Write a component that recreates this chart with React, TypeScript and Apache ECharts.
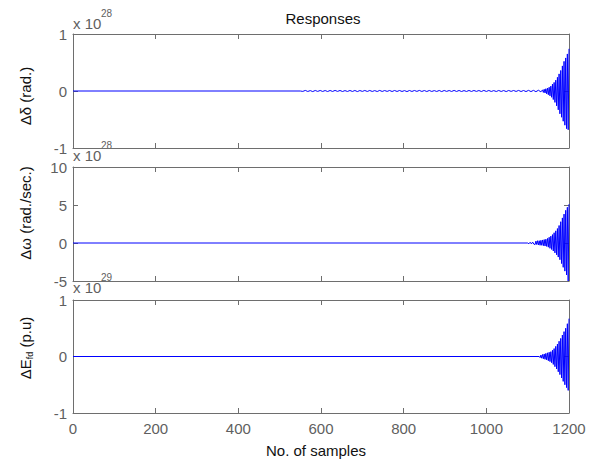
import React, { useEffect, useRef } from 'react';
import * as echarts from 'echarts';

// ---------- data ----------
const xTicks = [0, 200, 400, 600, 800, 1000, 1200];
const xMin = 0;
const xMax = 1200;
const xInterval = 200;

// Δδ (rad.)  ×10^28
const deltaRange = [-1, 1];
const deltaFlat = [[0, 0], [550, 0]];
const deltaRippleStart = 550;
const deltaRippleStep = 6;
const deltaRipple = [
  0.009, -0.007, 0.010, -0.008, 0.007, -0.010, 0.009, -0.007, 0.009, -0.008,
  0.008, -0.009, 0.009, -0.008, 0.010, -0.007, 0.009, -0.009, 0.007, -0.008,
  0.009, -0.008, 0.009, -0.010, 0.008, -0.007, 0.009, -0.008, 0.009, -0.008,
  0.007, -0.009, 0.010, -0.008, 0.008, -0.007, 0.009, -0.009, 0.009, -0.008,
  0.009, -0.008, 0.007, -0.010, 0.009, -0.008, 0.009, -0.007, 0.010, -0.008,
  0.008, -0.009, 0.009, -0.008, 0.007, -0.008, 0.009, -0.010, 0.009, -0.007,
  0.008, -0.008, 0.010, -0.008, 0.009, -0.009, 0.007, -0.008, 0.009, -0.008,
  0.009, -0.007, 0.008, -0.009, 0.010, -0.008, 0.009, -0.008, 0.007, -0.009,
  0.009, -0.008, 0.008, -0.010, 0.009, -0.007, 0.009, -0.008, 0.010, -0.009,
  0.009, -0.010, 0.011, -0.010, 0.011, -0.012, 0.013, -0.015,
];
const deltaGrowthStart = 1136;
const deltaGrowthStep = 2;
const deltaGrowth = [
  0.02, -0.025, 0.03, -0.035, 0.04, -0.05, 0.05, -0.065, 0.065, -0.085,
  0.085, -0.11, 0.12, -0.15, 0.15, -0.2, 0.19, -0.26, 0.24, -0.33,
  0.3, -0.4, 0.36, -0.46, 0.44, -0.53, 0.52, -0.6, 0.58, -0.66,
  0.65, -0.68, 0.74,
];

// Δω (rad./sec.)  ×10^28
const omegaRange = [-5, 10];
const omegaFlat = [[0, 0], [1100, 0]];
const omegaWiggleStart = 1100;
const omegaWiggleStep = 3;
const omegaWiggle = [0.08, -0.1, 0.1, -0.12, 0.12, -0.15];
const omegaGrowthStart = 1118;
const omegaGrowthStep = 2;
const omegaGrowth = [
  -0.2, 0.25, -0.2, 0.3, -0.25, 0.3, -0.3, 0.35, -0.3, 0.4,
  -0.35, 0.45, -0.4, 0.5, -0.45, 0.6, -0.55, 0.75, -0.7, 0.9,
  -0.85, 1.1, -1.05, 1.35, -1.3, 1.6, -1.55, 1.9, -1.85, 2.3,
  -2.2, 2.8, -2.7, 3.3, -3.2, 3.8, -3.7, 4.3, -4.2, 4.7,
  -5.0, 5.1,
];

// ΔEfd (p.u)  ×10^29
const efdRange = [-1, 1];
const efdFlat = [[0, 0], [1128, 0]];
const efdGrowthStart = 1130;
const efdGrowthStep = 2;
const efdGrowth = [
  -0.02, 0.025, -0.03, 0.035, -0.04, 0.045, -0.05, 0.055, -0.06, 0.065,
  -0.075, 0.075, -0.09, 0.085, -0.11, 0.11, -0.14, 0.14, -0.18, 0.18,
  -0.22, 0.22, -0.27, 0.27, -0.32, 0.32, -0.38, 0.38, -0.44, 0.44,
  -0.5, 0.5, -0.55, 0.58, -0.6, 0.67,
];

// ---------- helpers ----------
const seg = (start: number, step: number, vals: number[]) =>
  vals.map((v, i) => [start + i * step, v]);

const FONT = "'Liberation Sans', Arial, Helvetica, sans-serif";
const AXIS_COLOR = '#6e6e6e';
const LABEL_COLOR = '#5f5f5f';
const LINE_COLOR = '#0000ff';

const grids = [
  { left: 73, top: 34, width: 496, height: 114 },
  { left: 73, top: 167, width: 496, height: 114 },
  { left: 73, top: 300, width: 496, height: 113 },
];

export default function App() {
  const ref = useRef<HTMLDivElement>(null);

  useEffect(() => {
    if (!ref.current) return;
    const chart = echarts.init(ref.current, undefined, { renderer: 'svg' });

    const ranges = [deltaRange, omegaRange, efdRange];
    const intervals = [1, 5, 1];

    const xAxes: any[] = [];
    const yAxes: any[] = [];
    grids.forEach((_, gi) => {
      const lineCfg = { show: true, onZero: false, lineStyle: { color: AXIS_COLOR, width: 1 } };
      const tickCfg = { show: true, inside: true, length: 5, lineStyle: { color: AXIS_COLOR, width: 1 } };
      xAxes.push({
        type: 'value', gridIndex: gi, position: 'bottom', min: xMin, max: xMax, interval: xInterval,
        axisLine: lineCfg, axisTick: tickCfg, splitLine: { show: false },
        axisLabel: {
          show: gi === 2, fontSize: 15, fontFamily: FONT, color: LABEL_COLOR, margin: 8,
          formatter: (v: number) => (xTicks.includes(v) ? String(v) : ''),
        },
      });
      xAxes.push({
        type: 'value', gridIndex: gi, position: 'top', min: xMin, max: xMax, interval: xInterval,
        axisLine: lineCfg, axisTick: tickCfg, splitLine: { show: false }, axisLabel: { show: false },
      });
      yAxes.push({
        type: 'value', gridIndex: gi, position: 'left', min: ranges[gi][0], max: ranges[gi][1],
        interval: intervals[gi],
        axisLine: lineCfg, axisTick: tickCfg, splitLine: { show: false },
        axisLabel: { fontSize: 15, fontFamily: FONT, color: LABEL_COLOR, margin: 6 },
      });
      yAxes.push({
        type: 'value', gridIndex: gi, position: 'right', min: ranges[gi][0], max: ranges[gi][1],
        interval: intervals[gi],
        axisLine: lineCfg, axisTick: tickCfg, splitLine: { show: false }, axisLabel: { show: false },
      });
    });

    const deltaData = [
      ...deltaFlat,
      ...seg(deltaRippleStart, deltaRippleStep, deltaRipple),
      ...seg(deltaGrowthStart, deltaGrowthStep, deltaGrowth),
    ];
    const omegaData = [
      ...omegaFlat,
      ...seg(omegaWiggleStart, omegaWiggleStep, omegaWiggle),
      ...seg(omegaGrowthStart, omegaGrowthStep, omegaGrowth),
    ];
    const efdData = [...efdFlat, ...seg(efdGrowthStart, efdGrowthStep, efdGrowth)];

    const mkSeries = (data: number[][], gi: number) => ({
      type: 'line', xAxisIndex: gi * 2, yAxisIndex: gi * 2, data,
      showSymbol: false, symbol: 'none', clip: true,
      lineStyle: { color: LINE_COLOR, width: 1 }, itemStyle: { color: LINE_COLOR },
    });

    const txt = (text: string, x: number, y: number, opts: any = {}) => ({
      type: 'text', x, y, rotation: opts.rotation || 0,
      style: {
        text, fontSize: opts.fontSize || 15, fontFamily: FONT, fill: opts.fill || '#111',
        textAlign: opts.align || 'center', textVerticalAlign: 'middle',
        align: opts.align || 'center', verticalAlign: 'middle',
        rich: opts.rich,
      },
    });

    const expLabel = (sup: string, y: number) => [
      txt('x 10', 73, y, { align: 'left', fill: LABEL_COLOR }),
      txt(sup, 101, y - 10, { align: 'left', fill: LABEL_COLOR, fontSize: 10 }),
    ];

    chart.setOption({
      animation: false,
      grid: grids,
      xAxis: xAxes,
      yAxis: yAxes,
      series: [mkSeries(deltaData, 0), mkSeries(omegaData, 1), mkSeries(efdData, 2)],
      graphic: [
        txt('Responses', 323, 18),
        txt('No. of samples', 316, 450),
        txt('Δδ (rad.)', 25, 96, { rotation: Math.PI / 2 }),
        txt('Δω (rad./sec.)', 25, 213, { rotation: Math.PI / 2 }),
        txt('{a|ΔE}{b|fd}{a| (p.u)}', 25, 348, {
          rotation: Math.PI / 2,
          rich: {
            a: { fontSize: 15, fontFamily: FONT, fill: '#111', lineHeight: 18, verticalAlign: 'middle' },
            b: { fontSize: 9, fontFamily: FONT, fill: '#111', lineHeight: 10, verticalAlign: 'bottom' },
          },
        }),
        ...expLabel('28', 23),
        ...expLabel('28', 155),
        ...expLabel('29', 287),
      ],
    });

    return () => chart.dispose();
  }, []);

  return (
    <div
      ref={ref}
      style={{ position: 'fixed', left: 0, top: 0, width: 595, height: 460, background: '#fff' }}
    />
  );
}
